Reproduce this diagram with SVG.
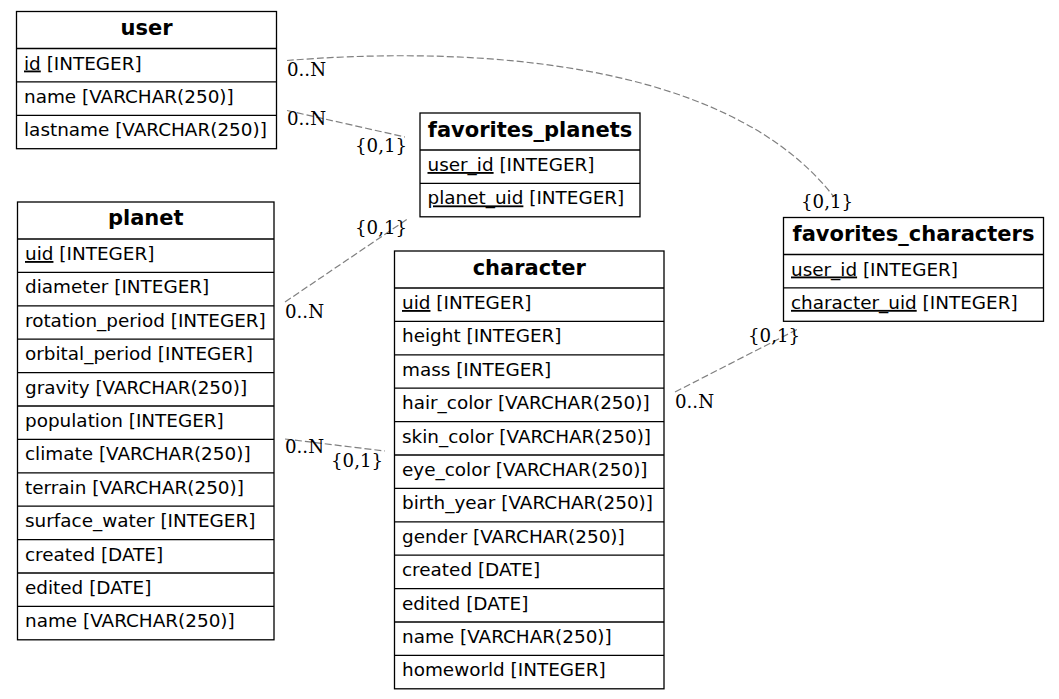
<svg xmlns="http://www.w3.org/2000/svg" width="1059" height="699" viewBox="0 0 1059 699">
<style>
.box{fill:none;stroke:#000;stroke-width:1.3}
.sep{stroke:#000;stroke-width:1.3}
.hdr{font-family:"DejaVu Sans",sans-serif;font-weight:bold;font-size:21px;text-anchor:middle;fill:#000}
.fld{font-family:"DejaVu Sans",sans-serif;font-size:18.4px;fill:#000}
.u{text-decoration:underline}
.edge{fill:none;stroke:#7f7f7f;stroke-width:1.2;stroke-dasharray:7,3}
.lbl{font-family:"DejaVu Serif",serif;font-size:18.2px;fill:#000}
</style>
<rect width="1059" height="699" fill="#fff"/>
<g id="connectors">
<path class="edge" d="M287,60.5 C440,48 720,50 834,197"/>
<path class="edge" d="M287,110.5 L405,137"/>
<path class="edge" d="M285,302 L409,218"/>
<path class="edge" d="M285,439 L385,451"/>
<path class="edge" d="M675,392 L798,329"/>
<text class="lbl" x="287" y="76">0..N</text>
<text class="lbl" x="801" y="208">{0,1}</text>
<text class="lbl" x="287" y="125">0..N</text>
<text class="lbl" x="355" y="152">{0,1}</text>
<text class="lbl" x="355" y="234">{0,1}</text>
<text class="lbl" x="285" y="318">0..N</text>
<text class="lbl" x="285" y="453">0..N</text>
<text class="lbl" x="331" y="467">{0,1}</text>
<text class="lbl" x="748" y="342">{0,1}</text>
<text class="lbl" x="675" y="408">0..N</text>
</g>
<g id="user">
<rect class="box" x="16.5" y="11.5" width="260" height="137.2"/>
<line class="sep" x1="16.5" y1="48.5" x2="276.5" y2="48.5"/>
<line class="sep" x1="16.5" y1="81.9" x2="276.5" y2="81.9"/>
<line class="sep" x1="16.5" y1="115.3" x2="276.5" y2="115.3"/>
<text class="hdr" x="146.5" y="34.5">user</text>
<text class="fld" x="24" y="69.5"><tspan class="u">id</tspan> [INTEGER]</text>
<text class="fld" x="24" y="102.9">name [VARCHAR(250)]</text>
<text class="fld" x="24" y="136.3">lastname [VARCHAR(250)]</text>
</g>
<g id="favorites_planets">
<rect class="box" x="420" y="113" width="220" height="103.8"/>
<line class="sep" x1="420" y1="150" x2="640" y2="150"/>
<line class="sep" x1="420" y1="183.4" x2="640" y2="183.4"/>
<text class="hdr" x="530" y="136.5">favorites_planets</text>
<text class="fld" x="427.5" y="171"><tspan class="u">user_id</tspan> [INTEGER]</text>
<text class="fld" x="427.5" y="204.4"><tspan class="u">planet_uid</tspan> [INTEGER]</text>
</g>
<g id="favorites_characters">
<rect class="box" x="783.5" y="217.5" width="260" height="103.8"/>
<line class="sep" x1="783.5" y1="254.5" x2="1043.5" y2="254.5"/>
<line class="sep" x1="783.5" y1="287.9" x2="1043.5" y2="287.9"/>
<text class="hdr" x="913.5" y="241">favorites_characters</text>
<text class="fld" x="791" y="275.5"><tspan class="u">user_id</tspan> [INTEGER]</text>
<text class="fld" x="791" y="308.9"><tspan class="u">character_uid</tspan> [INTEGER]</text>
</g>
<g id="planet">
<rect class="box" x="17.5" y="202" width="256.5" height="437.8"/>
<line class="sep" x1="17.5" y1="239" x2="274" y2="239"/>
<line class="sep" x1="17.5" y1="272.4" x2="274" y2="272.4"/>
<line class="sep" x1="17.5" y1="305.8" x2="274" y2="305.8"/>
<line class="sep" x1="17.5" y1="339.2" x2="274" y2="339.2"/>
<line class="sep" x1="17.5" y1="372.6" x2="274" y2="372.6"/>
<line class="sep" x1="17.5" y1="406" x2="274" y2="406"/>
<line class="sep" x1="17.5" y1="439.4" x2="274" y2="439.4"/>
<line class="sep" x1="17.5" y1="472.8" x2="274" y2="472.8"/>
<line class="sep" x1="17.5" y1="506.2" x2="274" y2="506.2"/>
<line class="sep" x1="17.5" y1="539.6" x2="274" y2="539.6"/>
<line class="sep" x1="17.5" y1="573" x2="274" y2="573"/>
<line class="sep" x1="17.5" y1="606.4" x2="274" y2="606.4"/>
<text class="hdr" x="145.75" y="225">planet</text>
<text class="fld" x="25" y="260"><tspan class="u">uid</tspan> [INTEGER]</text>
<text class="fld" x="25" y="293.4">diameter [INTEGER]</text>
<text class="fld" x="25" y="326.8">rotation_period [INTEGER]</text>
<text class="fld" x="25" y="360.2">orbital_period [INTEGER]</text>
<text class="fld" x="25" y="393.6">gravity [VARCHAR(250)]</text>
<text class="fld" x="25" y="427">population [INTEGER]</text>
<text class="fld" x="25" y="460.4">climate [VARCHAR(250)]</text>
<text class="fld" x="25" y="493.8">terrain [VARCHAR(250)]</text>
<text class="fld" x="25" y="527.2">surface_water [INTEGER]</text>
<text class="fld" x="25" y="560.6">created [DATE]</text>
<text class="fld" x="25" y="594">edited [DATE]</text>
<text class="fld" x="25" y="627.4">name [VARCHAR(250)]</text>
</g>
<g id="character">
<rect class="box" x="394.5" y="251" width="269.5" height="437.8"/>
<line class="sep" x1="394.5" y1="288" x2="664" y2="288"/>
<line class="sep" x1="394.5" y1="321.4" x2="664" y2="321.4"/>
<line class="sep" x1="394.5" y1="354.8" x2="664" y2="354.8"/>
<line class="sep" x1="394.5" y1="388.2" x2="664" y2="388.2"/>
<line class="sep" x1="394.5" y1="421.6" x2="664" y2="421.6"/>
<line class="sep" x1="394.5" y1="455" x2="664" y2="455"/>
<line class="sep" x1="394.5" y1="488.4" x2="664" y2="488.4"/>
<line class="sep" x1="394.5" y1="521.8" x2="664" y2="521.8"/>
<line class="sep" x1="394.5" y1="555.2" x2="664" y2="555.2"/>
<line class="sep" x1="394.5" y1="588.6" x2="664" y2="588.6"/>
<line class="sep" x1="394.5" y1="622" x2="664" y2="622"/>
<line class="sep" x1="394.5" y1="655.4" x2="664" y2="655.4"/>
<text class="hdr" x="529.25" y="274.5">character</text>
<text class="fld" x="402" y="309"><tspan class="u">uid</tspan> [INTEGER]</text>
<text class="fld" x="402" y="342.4">height [INTEGER]</text>
<text class="fld" x="402" y="375.8">mass [INTEGER]</text>
<text class="fld" x="402" y="409.2">hair_color [VARCHAR(250)]</text>
<text class="fld" x="402" y="442.6">skin_color [VARCHAR(250)]</text>
<text class="fld" x="402" y="476">eye_color [VARCHAR(250)]</text>
<text class="fld" x="402" y="509.4">birth_year [VARCHAR(250)]</text>
<text class="fld" x="402" y="542.8">gender [VARCHAR(250)]</text>
<text class="fld" x="402" y="576.2">created [DATE]</text>
<text class="fld" x="402" y="609.6">edited [DATE]</text>
<text class="fld" x="402" y="643">name [VARCHAR(250)]</text>
<text class="fld" x="402" y="676.4">homeworld [INTEGER]</text>
</g>
</svg>
